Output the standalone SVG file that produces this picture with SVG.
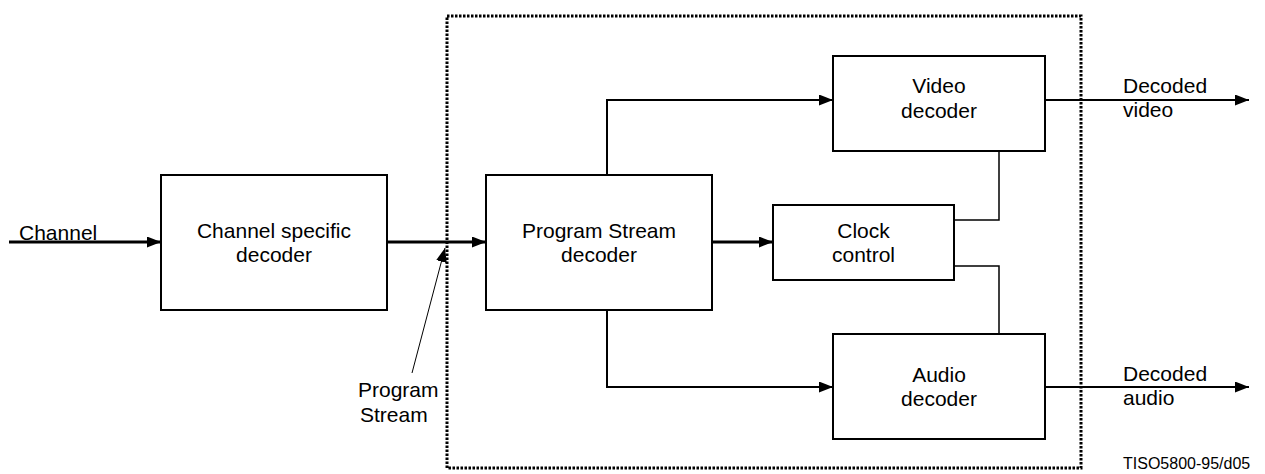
<svg xmlns="http://www.w3.org/2000/svg" width="1265" height="474" viewBox="0 0 1265 474">
<style>
.box{fill:#fff;stroke:#000;stroke-width:2}
.t{font-family:"Liberation Sans",Arial,sans-serif;font-size:21px;fill:#000}
.c{text-anchor:middle}
.w{fill:none;stroke:#000;stroke-width:2}
.thick{fill:none;stroke:#000;stroke-width:3}
.thin{fill:none;stroke:#000;stroke-width:1.5}
</style>
<defs>
<marker id="ah" viewBox="0 0 14 11" refX="14" refY="5.5" markerWidth="14" markerHeight="11" markerUnits="userSpaceOnUse" orient="auto">
<path d="M0,0 L14,5.5 L0,11 z" fill="#000"/>
</marker>
</defs>
<rect x="447" y="16" width="634" height="452" fill="none" stroke="#000" stroke-width="3" stroke-dasharray="2.5 1.5"/>
<g id="connectors">
<line class="thick" x1="9" y1="242" x2="161" y2="242" marker-end="url(#ah)"/>
<line class="thick" x1="387" y1="242" x2="486" y2="242" marker-end="url(#ah)"/>
<line class="thick" x1="712" y1="242" x2="773" y2="242" marker-end="url(#ah)"/>
<polyline class="w" points="607,175 607,100 833,100" marker-end="url(#ah)"/>
<polyline class="w" points="607,310 607,387 833,387" marker-end="url(#ah)"/>
<polyline class="thin" points="954,220 999,220 999,151"/>
<polyline class="thin" points="954,266 999,266 999,334"/>
<line class="w" x1="1045" y1="100" x2="1249" y2="100" marker-end="url(#ah)"/>
<line class="w" x1="1045" y1="387" x2="1249" y2="387" marker-end="url(#ah)"/>
<line stroke="#000" stroke-width="1" x1="412" y1="373" x2="445" y2="248" marker-end="url(#ah)"/>
</g>
<g id="channel-decoder">
<rect class="box" x="161" y="175" width="226" height="135"/>
<text class="t c" x="274" y="238">Channel specific</text>
<text class="t c" x="274" y="262">decoder</text>
</g>
<g id="ps-decoder">
<rect class="box" x="486" y="175" width="226" height="135"/>
<text class="t c" x="599" y="238">Program Stream</text>
<text class="t c" x="599" y="262">decoder</text>
</g>
<g id="video-decoder">
<rect class="box" x="833" y="56" width="212" height="95"/>
<text class="t c" x="939" y="93">Video</text>
<text class="t c" x="939" y="118">decoder</text>
</g>
<g id="clock-control">
<rect class="box" x="773" y="205" width="181" height="75"/>
<text class="t c" x="863.5" y="238">Clock</text>
<text class="t c" x="863.5" y="262">control</text>
</g>
<g id="audio-decoder">
<rect class="box" x="833" y="334" width="212" height="105"/>
<text class="t c" x="939" y="382">Audio</text>
<text class="t c" x="939" y="406">decoder</text>
</g>
<g id="labels">
<text class="t" x="19" y="240">Channel</text>
<text class="t" x="358" y="397">Program</text>
<text class="t" x="360" y="422">Stream</text>
<text class="t" x="1123" y="93">Decoded</text>
<text class="t" x="1123" y="117">video</text>
<text class="t" x="1123" y="381">Decoded</text>
<text class="t" x="1123" y="405">audio</text>
<text class="t" x="1123" y="469" style="font-size:16px">TISO5800-95/d05</text>
</g>
</svg>
